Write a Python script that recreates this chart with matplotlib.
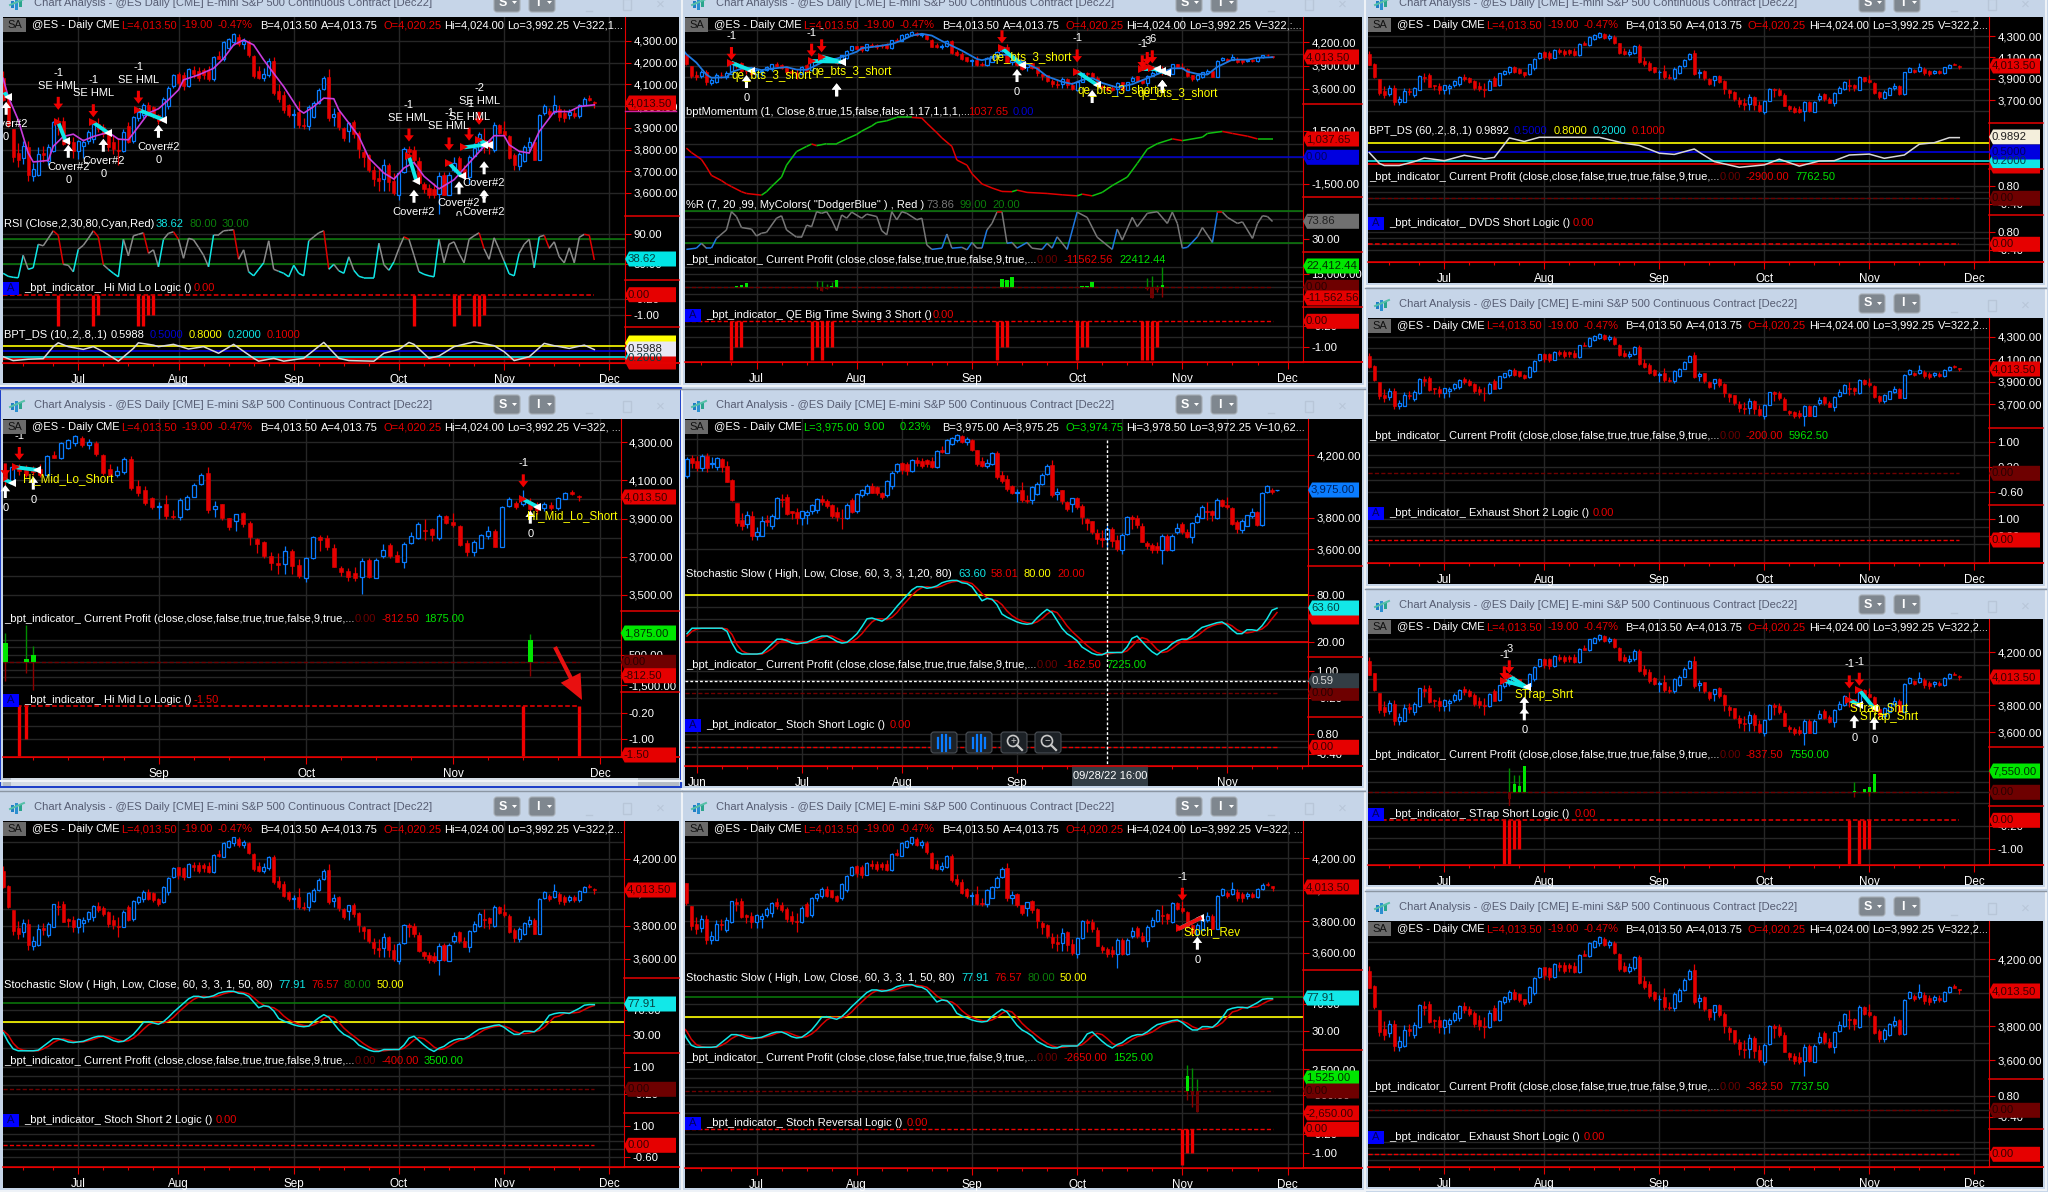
import numpy as np
import matplotlib
matplotlib.use('Agg')
import matplotlib.pyplot as plt
from matplotlib.collections import LineCollection
from matplotlib.patches import Rectangle, Polygon, FancyBboxPatch, Circle

plt.rcParams['font.family'] = ['Liberation Sans', 'DejaVu Sans']

MONTH_IDX = [2, 23, 43, 66, 87, 108, 129]
MONTH_LAB = ['Jun', 'Jul', 'Aug', 'Sep', 'Oct', 'Nov', 'Dec']
MINOR_IDX = [7, 12, 18, 28, 33, 38, 48, 53, 58, 61, 71, 76, 81, 92, 97, 102, 113, 118, 123]

O = [4065,4180,4160,4115,4195,4140,4125,4172,4130,4040,3895,3785,3760,3812,3680,3685,3785,3747,3795,3920,
     3930,3840,3835,3795,3815,3840,3850,3920,3905,3880,3835,3800,3795,3910,3840,3945,3960,4005,3995,3960,
     3945,4000,4095,4150,4145,4095,4165,4162,4165,4160,4125,4230,4215,4270,4295,4320,4285,4295,4230,4160,
     4130,4145,4210,4070,4050,4005,3960,3975,3915,3910,3950,4015,4080,4136,3950,3974,3901,3887,3927,3875,
     3791,3777,3704,3668,3664,3730,3657,3591,3695,3803,3798,3746,3641,3624,3617,3596,3683,3591,3706,3760,
     3709,3675,3770,3800,3842,3845,3796,3913,3884,3861,3774,3723,3748,3810,3835,3753,3967,3979,3974,3988,
     3970,3957,3970,3953,4004,4037,4020.25]
H = [4185,4200,4195,4205,4210,4190,4190,4180,4160,4045,3895,3830,3840,3840,3740,3810,3815,3825,3930,3950,
     3950,3845,3860,3845,3850,3890,3925,3945,3920,3890,3865,3855,3895,3925,3955,3980,4015,4020,4000,3965,
     4040,4095,4150,4155,4155,4175,4185,4180,4175,4185,4230,4255,4300,4315,4335,4330,4315,4305,4235,4185,
     4175,4220,4225,4100,4070,4010,3985,4025,3945,4005,4025,4085,4140,4170,3990,3978,3905,3925,3935,3885,
     3800,3780,3725,3720,3755,3740,3690,3700,3810,3815,3815,3765,3650,3640,3645,3695,3695,3695,3765,3770,
     3730,3775,3830,3880,3900,3850,3925,3920,3930,3868,3785,3790,3820,3860,3845,3965,4010,3990,4050,4005,
     3985,3985,3985,4012,4040,4050,4024]
L = [4055,4115,4095,4100,4090,4115,4105,4090,4025,3905,3745,3720,3735,3655,3655,3680,3745,3730,3790,3865,
     3820,3790,3760,3755,3760,3825,3830,3880,3860,3795,3780,3730,3790,3830,3830,3930,3945,3955,3945,3920,
     3935,3985,4085,4080,4075,4090,4130,4115,4125,4115,4115,4215,4210,4265,4280,4275,4265,4228,4130,4125,
     4115,4135,4050,4020,3970,3950,3900,3900,3895,3890,3945,4010,4075,3930,3910,3890,3840,3835,3855,3760,
     3720,3695,3630,3610,3610,3610,3590,3570,3690,3730,3735,3645,3600,3575,3575,3505,3590,3590,3695,3695,
     3670,3640,3765,3795,3785,3780,3790,3870,3855,3755,3705,3705,3745,3795,3750,3750,3960,3950,3965,3930,
     3925,3940,3945,3945,4000,4025,3992.25]
C = [4175,4147,4115,4195,4120,4150,4178,4122,4030,3915,3768,3750,3815,3685,3710,3780,3775,3810,3928,3910,
     3825,3830,3795,3840,3835,3880,3918,3897,3872,3812,3803,3795,3882,3835,3950,3975,4005,3960,3955,3930,
     4035,4085,4145,4105,4095,4170,4150,4130,4145,4125,4225,4218,4295,4308,4330,4285,4300,4235,4140,4130,
     4150,4210,4060,4035,3980,3960,3965,3912,3908,3995,4015,4075,4130,3945,3966,3904,3854,3924,3870,3802,
     3767,3706,3666,3657,3729,3652,3600,3692,3803,3790,3751,3647,3620,3592,3591,3680,3593,3683,3736,3706,
     3675,3767,3809,3871,3835,3814,3913,3875,3866,3762,3727,3779,3814,3833,3753,3958,4002,3962,4006,3950,
     3945,3974,3955,4006,4032,4030,4013.5]
W5_LAST_BAR = (3974.75, 3978.5, 3972.25, 3975.0)

MA_X = [8,9,11,12,13,14,17,18,20,22,24,26,29,31,33,35,37,39,41,43,44,47,50,52,54,56,58,60,62,64,67,68,70,72,74,75,77,79,81,84,86,88,90,92,95,98,101,104,106,108,109,111,113,115,118,121,123,126]
MA_V = [4128,4044,3937,3860,3784,3743,3750,3815,3860,3871,3841,3860,3880,3848,3845,3906,3968,3988,4029,4075,4121,4144,4174,4220,4282,4305,4282,4213,4151,4090,3983,3968,3998,4037,4034,3983,3922,3860,3761,3692,3664,3715,3741,3677,3619,3661,3738,3815,3864,3864,3822,3792,3784,3883,3975,3975,3998,4006]

RSI_V = [12,6,4,3,48,20,23,70,67,82,97,88,30,28,15,60,68,82,97,85,29,20,12,5,80,47,87,90,93,52,
         59,25,80,92,95,80,42,82,79,64,48,25,89,89,97,98,99,40,59,15,7,20,33,77,20,16,12,5,28,12,
         7,77,85,93,97,20,30,17,12,45,18,6,3,3,3,72,29,18,35,
         62,85,80,48,15,10,7,5,80,33,70,75,52,33,80,87,93,61,40,83,60,36,
         11,7,52,70,80,23,85,88,62,75,45,33,63,33,84,90,88,38.62]

DS10_X = [8,10,13,16,18,19,21,24,26,28,31,34,35,38,39,42,45,48,51,54,58,59,62,64,68,72,75,77,82,84,87,89,90,93,95,98,102,106,108,110,113,116,118,121,124,126]
DS10_V = [.23,.03,.10,.13,.75,.95,.75,.61,.75,.49,0,.66,.95,.83,.75,.87,.63,.75,.41,.87,.15,0,.15,0,.15,.97,.15,.03,0,.41,.61,.97,.87,.15,.27,.75,1.0,.8,.49,.03,.23,.92,.8,.66,.83,.5988]
DS60_X = [8,10,11,14,17,19,23,27,31,33,36,39,42,54,59,62,66,69,73,74,77,82,87,90,94,98,101,104,108,111,115,118,121,124,126]
DS60_V = [.49,.13,.06,.06,.19,.31,.22,.4,.28,.33,.98,.86,1.0,1.0,.8,.73,.47,.43,.61,.5,.19,0,.08,.27,.04,.21,.22,.41,.44,.3,.41,.77,.82,.9892,.9892]

MOM_X = [9,10,12,13,14,16,17,18,20,21,24,25,26,28,29,31,33,34,35,37,39,41,43,44,46,47,49,51,54,56,57,59,60,62,63,65,66,68,70,72,74,75,77,81,84,87,88,90,92,94,97,99,101,103,106,108,112,113,116,118,121,123,126]
MOM_V = [520,270,-115,-540,-1020,-1310,-1500,-1650,-1940,-2040,-2135,-1940,-1650,-1115,-440,325,615,750,655,770,770,1040,1290,1480,1770,1960,2060,2250,2250,2210,1920,1385,1095,615,-155,-440,-925,-1500,-1730,-1925,-1940,-1850,-1980,-2040,-2115,-2175,-2075,-2175,-1980,-1595,-1115,-345,460,770,1040,940,1135,1345,1460,1345,1190,1037.65,1037.65]

WR_X = [9,11,12,13,14,15,17,18,19,20,22,23,24,25,27,28,29,31,32,33,34,35,36,37,38,39,40,41,42,44,45,47,48,49,50,51,52,53,55,56,57,58,60,61,62,64,65,66,67,68,69,70,71,72,73,74,75,77,78,80,81,82,83,85,87,89,91,94,95,96,98,99,101,103,105,106,107,108,109,111,112,114,115,116,117,119,120,122,123,124,125,126]
WR_V = [5,8,20,8,8,32,53,98,86,59,55,38,45,47,82,88,53,35,35,65,61,98,94,98,78,51,90,82,97,82,92,86,51,41,98,78,98,94,78,82,16,5,8,43,8,10,4,22,8,8,53,69,97,97,20,22,8,22,8,5,20,8,36,5,97,84,35,5,55,28,84,61,94,98,69,97,69,8,10,36,59,22,97,97,84,69,73,32,69,88,86,73.86]

STOCH_K = [31,38,38,38,38,38,38,38,34,19,8,5,5,5,5,6,12,18,24,24,22,19,18,19,20,23,26,28,28,25,
           21,19,20,25,31,40,50,51,49,47,51,58,66,73,80,87,91,91,89,90,92,96,98,99,99,96,95,91,82,73,
           76,75,68,56,52,49,46,44,43,44,51,57,62,58,48,38,31,27,22,14,10,6,4,4,7,7,7,7,14,25,
           28,21,14,8,4,9,12,18,22,24,24,28,34,39,41,43,45,46,42,36,31,31,36,36,35,41,50,61,63.6,
           65,65,64,68,72,77,78,77.91]
STOCH_D = [28,34,37,38,38,38,38,38,37,30,17,9,6,5,5,5,8,12,18,22,24,22,20,19,19,21,23,26,28,28,
           25,22,20,21,25,31,39,46,50,50,49,52,58,66,73,80,86,90,91,90,90,92,95,97,98,98,97,95,89,82,
           77,74,73,68,60,54,50,47,45,44,46,50,56,60,58,50,41,34,28,22,16,11,7,5,5,6,7,7,9,15,
           22,26,24,18,11,7,8,12,17,21,23,25,28,33,38,41,43,44,44,41,36,33,32,33,35,37,42,50,58.01,
           60,64,65,65,66,70,74,76.57]

HML_SIG_X = [19,26,27,35,36,37,38,90,98,99,102,103,104]
HML_SIG_V = [-1.5,-1.5,-1,-1.5,-1.5,-1,-1,-1.5,-1.5,-1,-1.5,-1.5,-1]
QE_SIG_X = [18,19,20,34,35,36,37,38,71,72,73,87,88,89,100,101,102,103]
QE_SIG_V = [-1.5,-1,-1,-1.5,-1,-1.5,-1,-1,-1.5,-1,-1,-1.5,-1,-1,-1.5,-1.5,-1.5,-1]
HML2_SIG_X = [46,47,118,126]
HML2_SIG_V = [-1.5,-1,-1.5,-1.5]
STRAP_SIG_X = [35,36,37,38,104,106,107,108]
STRAP_SIG_V = [-1.5,-1.5,-1,-1,-1.5,-1.5,-1,-1]
REV_SIG_X = [108,109,110]
REV_SIG_V = [-1.5,-1,-1]

QE_PROF = [(19,1000,1000,0),(20,3000,3000,0),(21,4500,4500,0),(35,0,7000,-2000),(36,-4000,7000,-4000),(37,-2000,4000,-2000),
           (38,1500,6000,0),(39,8000,8000,0),(72,9000,9000,-1000),(73,8500,8500,0),(74,11000,11000,0),(88,1000,1000,-500),
           (89,1000,1000,0),(90,6000,6000,0),(101,-2000,10000,-3000),(102,-11500,12000,-11562),(103,-2500,3000,-5000),(104,3000,22412,-11000)]
HML2_PROF = [(44,1250,1900,-1225),(47,220,2450,-720),(48,480,1070,-1815),(119,1466,1860,-875)]
STRAP_PROF = [(36,-2000,7000,-3800),(37,2300,5000,0),(38,1800,5000,0),(39,7550,7550,0),(105,400,2800,-1300),(107,800,800,0),(108,1400,1400,-1000),(109,5200,5200,0)]
REV_PROF = [(109,1770,3000,-1040),(110,-460,2615,-1800),(111,-2385,1350,-2385)]

# (red_i, red_tip, white_i, white_tip, line_i0, line_p0, line_i1, line_p1, top_num, name, name_i, name_p, bottom_num)
HML_TRADES = [(19,3983,21,3822,19,3925,20.5,3838,'-1','SE HML',None,None,'Cover#2'),
              (26,3949,28,3850,26,3925,29,3876,'-1','SE HML',None,None,'Cover#2'),
              (35,4011,39,3914,35,3983,40,3937,'-1','SE HML',None,None,'Cover#2'),
              (None,None,8.6,4020,8,4070,9,4040,'','',None,None,'Cover#2'),
              (89,3837,90,3615,89,3769,90.5,3654,'-1','SE HML',None,None,'Cover#2'),
              (97,3796,99,3654,97,3738,99.5,3677,'-1','SE HML',None,None,'Cover#2'),
              (101,3841,104,3746,100,3810,104,3822,'-1','SE HML',None,None,'Cover#2'),
              (103,3914,104,3615,103,3845,105,3819,'-2','SE HML',None,None,'Cover#2')]
QE_TRADES = [(18,3970,21,3779,18,3936,22,3834,'-1','qe_bts_3_short',26,3770,'0'),
             (34,4013,39,3672,34,3957,40,3949,'-1','qe_bts_3_short',42,3820,'-'),
             (36,4068,39,3672,36,4013,40,3940,'-','',None,None,''),
             (72,4183,75,3855,72,4119,76,3906,'','qe_bts_3_short',78,4000,'0'),
             (87,3940,90,3587,87,3821,91,3651,'-1','qe_bts_3_short',95,3580,''),
             (100,3864,104,3715,100,3860,103,3860,'-1','',None,None,''),
             (101,3906,104,3715,101,3880,104,3830,'3','',None,None,''),
             (102,3928,104,3715,102,3864,105,3800,'6','qe_bts_3_short',107,3540,'')]
HML2_TRADES = [(44,4120,44,4075,43.8,4105,45,4085,'','',None,None,'0'),
               (46,4206,48,4119,45.5,4168,48.5,4154,'-1','Hi_Mid_Lo_Short',53,4105,'0'),
               (118,4063,119,3941,118,4000,120,3962,'-1','Hi_Mid_Lo_Short',125,3915,'0')]
STRAP_TRADES = [(35,3995,39,3785,35,3985,39.5,3935,'-1','',None,None,'0'),
                (36,4040,39,3865,36,4020,39.5,3935,'3','STrap_Shrt',43,3880,''),
                (104,3927,105,3727,104,3840,106,3802,'-1','STrap_Shrt',110,3770,'0'),
                (106,3947,109,3715,106,3915,109,3777,'-1','STrap_Shrt',112,3715,'0')]
REV_TRADES = [(108,3930,111,3703,107.5,3756,111.5,3819,'-1','Stoch_Rev',114,3735,'0')]

FS = 8.0
RED, DKRED, CYAN = '#e60000', '#6e0000', '#10e6e6'
BLUE = '#0a7cff'
GRID = '#262626'
CHROME = '#c6d5e8'

fig = plt.figure(figsize=(20.48, 11.92), dpi=100, facecolor=CHROME)
bg = fig.add_axes([0, 0, 1, 1], xlim=(0, 2048), ylim=(1192, 0), zorder=0)
bg.axis('off')
ov = fig.add_axes([0, 0, 1, 1], xlim=(0, 2048), ylim=(1192, 0), zorder=5, facecolor='none')
ov.axis('off')


def txt(x, y, s, color='white', ha='left', fs=FS, **kw):
    ov.text(x, y, s, color=color, ha=ha, va='center', fontsize=fs, **kw)


def tag(win, y, s, face, tc='#3a0000'):
    X, R = win['X'], win['R'] - 3
    ov.add_patch(Polygon([(X, y), (X + 4, y - 7.5), (R, y - 7.5), (R, y + 7.5), (X + 4, y + 7.5)],
                         closed=True, facecolor=face, edgecolor='none'))
    txt(X + 3, y, s, color=tc, fs=FS + .2)


def icon(x, y):
    for dx_, h_, c in [(0, 7, '#1f7fc4'), (4, 11, '#2b8fd0'), (8, 6, '#2aa58c')]:
        bg.add_patch(Rectangle((x + dx_, y - h_ / 2 + 1), 3, h_, facecolor=c, edgecolor='none'))
    bg.plot([x - 1, x + 13], [y + 2, y - 4], color='#55c0a8', lw=1.4)


def window(L, R, T, X, bot, B, i0, x0, dx, vals=None, volume='V=322,2...'):
    win = dict(L=L, R=R, T=T, X=X, bot=bot, B=B, i0=i0, x0=x0, dx=dx, axes=[])
    bg.add_patch(Rectangle((L, T), R - L, B - T, facecolor='black', edgecolor='none'))
    bg.plot([L - 3, R + 2], [B + 3, B + 3], color='#eef2f7', lw=1.5)
    bg.plot([R + 3, R + 3], [T - 29, B + 3], color='#eef2f7', lw=1.5)
    bg.plot([L - 3, R + 3], [T - 30, T - 30], color='#8b96a3', lw=1)
    cy = T - 14
    icon(L + 8, cy)
    bg.text(L + 31, cy, 'Chart Analysis - @ES Daily [CME] E-mini S&P 500 Continuous Contract [Dec22]',
            color='#565c72', fontsize=FS, va='center')
    for bx, lab in [(491, 'S'), (526, 'I')]:
        bg.add_patch(FancyBboxPatch((L + bx, T - 24), 26, 19, boxstyle='round,pad=0,rounding_size=3',
                                    facecolor='#7f878f', edgecolor='#a7aeb5', lw=.8))
        bg.text(L + bx + 9, T - 14.5, lab, color='white', fontsize=FS + 1, fontweight='bold', ha='center', va='center')
        bg.add_patch(Polygon([(L + bx + 18, T - 16), (L + bx + 23, T - 16), (L + bx + 20.5, T - 13)], facecolor='white'))
    bg.plot([L + 583, L + 589], [T - 6, T - 6], color='#b8c6d8', lw=1)
    bg.add_patch(Rectangle((L + 620, T - 18), 8, 11, facecolor='none', edgecolor='#b8c6d8', lw=1))
    bg.text(L + 657, T - 12, '\u00d7', color='#b8c6d8', fontsize=11, ha='center', va='center')
    ov.add_patch(Rectangle((L, T + 1), 23, 14, facecolor='#6a6a6a', edgecolor='none'))
    txt(L + 11.5, T + 8, 'SA', color='#111111', ha='center')
    v = vals or (('L=4,013.50', '-19.00', '-0.47%', 'B=4,013.50', 'A=4,013.75', 'O=4,020.25', 'Hi=4,024.00', 'Lo=3,992.25'), RED)
    seg, col = v
    txt(L + 29, T + 8, '@ES - Daily')
    txt(L + 92, T + 8, 'CME')
    offs = [118.5, 179, 215, 257, 318, 380, 441, 504]
    cols = [col, col, col, 'white', 'white', col, 'white', 'white']
    for o, s, c in zip(offs, seg, cols):
        txt(L + o, T + 8, s, color=c)
    txt(L + 570, T + 8, volume)
    return win


def panel(win, top, bot, cal, ticks, grid=(), last=False, hline_sep=True):
    L, X = win['L'], win['X']
    ax = fig.add_axes([L / 2048, 1 - bot / 1192, (X - L) / 2048, (bot - top) / 1192], zorder=2)
    ax.set_facecolor('none')
    (y1, v1), (y2, v2) = cal
    slope = (v2 - v1) / (y2 - y1)
    ylims = (v1 + (bot - y1) * slope, v1 + (top - y1) * slope)
    xlims = (win['i0'] + (L - win['x0']) / win['dx'], win['i0'] + (X - win['x0']) / win['dx'])
    for s in ax.spines.values():
        s.set_visible(False)
    ax.spines['right'].set_visible(True)
    ax.spines['right'].set_color(RED)
    ax.yaxis.tick_right()
    ax.set_yticks(ticks)
    ax.set_yticklabels([f'{t:,.2f}' for t in ticks], color='white', fontsize=FS + .2)
    ax.tick_params(axis='y', colors=RED, length=4, width=.8, labelcolor='white', pad=2)
    for g in grid:
        ax.axhline(g, color=GRID, lw=1, zorder=0)
    for m in MONTH_IDX:
        ax.axvline(m, color=GRID, lw=1, zorder=0)
    ax.set_xticks(MONTH_IDX if last else [])
    if last:
        ax.set_xticklabels(MONTH_LAB, color='white', fontsize=FS + .4)
        ax.set_xticks(MINOR_IDX, minor=True)
        ax.tick_params(axis='x', which='major', colors=RED, length=5, width=.8, labelcolor='white', pad=3)
        ax.tick_params(axis='x', which='minor', colors=RED, length=2.5, width=.8)
        ax.spines['bottom'].set_visible(True)
        ax.spines['bottom'].set_color(RED)
        ov.plot([L, win['R']], [bot, bot], color=RED, lw=1.1)
    ax.set_xlim(xlims)
    ax.set_ylim(ylims)
    ax.set_autoscale_on(False)
    if hline_sep:
        ov.plot([X, win['R']], [bot, bot], color=RED, lw=1.1)
    return ax


def candles(ax, xs=None, o=O, h=H, l=L, c=C):
    xs = np.arange(len(o)) if xs is None else xs
    o, h, l, c = map(np.asarray, (o, h, l, c))
    up = c >= o
    ax.vlines(xs[up], l[up], h[up], color=BLUE, lw=.9, zorder=3)
    ax.vlines(xs[~up], l[~up], h[~up], color=RED, lw=.9, zorder=3)
    ax.bar(xs[~up], (o - c)[~up], bottom=c[~up], width=.62, color=RED, edgecolor=RED, lw=.4, zorder=4)
    ax.bar(xs[up], (c - o)[up], bottom=o[up], width=.62, color='black', edgecolor=BLUE, lw=.9, zorder=4)


def seg_line(ax, x, y, colors, lw=1.1):
    pts = np.column_stack([x, y])
    segs = np.stack([pts[:-1], pts[1:]], axis=1)
    ax.add_collection(LineCollection(segs, colors=colors, linewidths=lw, zorder=5))


def signals(ax, xs, vs):
    ax.vlines(xs, vs, 0, color='#f00000', lw=2.4, zorder=4)


def profit(ax, rows):
    for i, v, hi, lo in rows:
        c = '#00e600' if v >= 0 else DKRED
        ax.vlines(i, 0, hi, color='#008c00', lw=1, zorder=3)
        ax.vlines(i, lo, 0, color='#8c0000', lw=1, zorder=3)
        ax.bar(i, v, width=.72, color=c, zorder=4)


def zero(ax, color, lw=1, lastx=126):
    ax.plot([ax.get_xlim()[0], lastx], [0, 0], color=color, lw=lw, ls=(0, (3, 1.6)), zorder=2)


def trades(ax, rows, hml=False):
    for r in rows:
        ri, rp, wi, wp, i0, p0, i1, p1, num, name, ni, np_, bot = r
        ax.plot([i0, i1], [p0, p1], color=CYAN, lw=2.8, zorder=6, solid_capstyle='butt')
        ax.plot([i0], [p0], marker='>', color=RED, ms=6, mew=0, zorder=6)
        ax.plot([i1], [p1], marker='<', color='white', ms=6, mew=0, zorder=7)
        if ri is not None:
            ax.annotate('', xy=(ri, rp), xytext=(0, 13), textcoords='offset pixels', zorder=8,
                        arrowprops=dict(facecolor='#f00000', edgecolor='none', width=2.2, headwidth=7, headlength=4.5, shrink=0))
        ax.annotate('', xy=(wi, wp), xytext=(0, -13), textcoords='offset pixels', zorder=8,
                    arrowprops=dict(facecolor='white', edgecolor='none', width=2.2, headwidth=7, headlength=4.5, shrink=0))
        t = dict(ha='center', va='center', fontsize=FS, textcoords='offset pixels', clip_on=True,
                 annotation_clip=False, zorder=9)
        if hml:
            if ri is not None:
                ax.annotate(name, xy=(ri, rp), xytext=(0, 24), color='white', **t)
                ax.annotate(num, xy=(ri, rp), xytext=(0, 37), color='white', **t)
            ax.annotate(bot, xy=(wi, wp), xytext=(0, -22), color='white', **t)
            ax.annotate('0', xy=(wi, wp), xytext=(0, -35), color='white', **t)
        else:
            ax.annotate(num, xy=(ri, rp), xytext=(0, 24), color='white', **t)
            ax.annotate(bot, xy=(wi, wp), xytext=(0, -23), color='white', **t)
            if name:
                ax.text(ni, np_, name, color='#ffff00', ha='center', va='center', fontsize=FS + .4, zorder=9, clip_on=True)


def alabel(win, y, s, vals):
    L = win['L']
    ov.add_patch(Rectangle((L, y - 6.5), 16, 13, facecolor='#0000ff', edgecolor='none'))
    txt(L + 8, y, 'A', color='#000060', ha='center')
    txt(L + 21, y, s)
    for x, t, c in vals:
        txt(L + x, y, t, color=c)


PROFIT_TXT = '_bpt_indicator_ Current Profit (close,close,false,true,true,false,9,true,...'


def plabel(win, y, a, b, xa=378, xb=421):
    L = win['L']
    txt(L + 1, y, PROFIT_TXT)
    txt(L + 352, y, '0.00', color='#6a0000')
    txt(L + xa, y, a, color=RED)
    txt(L + xb, y, b, color='#00e000')


# ---------------- Window 1
w = window(3, 679, 17, 625, 363, 383, 23, 78.3, 5.01, volume='V=322,1...')
a = panel(w, 17, 216, ((41, 4300), (193, 3600)), list(range(3600, 4301, 100)), range(3600, 4301, 100))
candles(a)
a.plot(MA_X, MA_V, color='#c83cdc', lw=1.2, zorder=5)
trades(a, HML_TRADES, hml=True)
tag(w, 103, '4,013.50', RED)
ov.plot([625, 676], [110.5, 110.5], color='#d020a0', lw=1)
a = panel(w, 216, 280, ((239.3, 80), (264.3, 30)), [30, 90], [30, 50, 65, 80, 90])
a.axhline(80, color='#0b7d0b', lw=1.1, zorder=2)
a.axhline(30, color='#0b7d0b', lw=1.1, zorder=2)
rx = np.arange(126 - len(RSI_V) + 1, 127)
rcol = ['#e00000' if max(p, q) >= 85 and q < p else (CYAN if q > p and p <= 32 or min(p, q) <= 12 else '#8a8a8a')
        for p, q in zip(RSI_V[:-1], RSI_V[1:])]
seg_line(a, rx, RSI_V, rcol)
txt(4, 224, 'RSI (Close,2,30,80,Cyan,Red)')
txt(156, 224, '38.62', color=CYAN); txt(189, 224, '80.00', color='#0b7d0b'); txt(222, 224, '30.00', color='#0b7d0b')
tag(w, 259, '38.62', '#00e5e5', '#064040')
a = panel(w, 280, 327, ((294.7, 0), (315.3, -1)), [-1.0, -0.2], [-1.0, -0.6, -0.2])
zero(a, '#f00000', 1.1)
signals(a, HML_SIG_X, HML_SIG_V)
alabel(w, 288, '_bpt_indicator_ Hi Mid Lo Logic ()', [(191, '0.00', RED)])
tag(w, 294.7, '0.00', RED)
a = panel(w, 327, 363, ((345.7, .8), (357.3, .2)), [], [], last=True)
for v_, c_ in [(.8, '#ffff00'), (.5, '#0000e0'), (.2, CYAN), (.1, '#f00000')]:
    a.axhline(v_, color=c_, lw=1.2, zorder=2)
a.plot(DS10_X, DS10_V, color='#d8d8d8', lw=1.1, zorder=5)
txt(4, 335, 'BPT_DS (10,.2,.8,.1)'); txt(111, 335, '0.5988')
txt(150, 335, '0.5000', color='#0000d0'); txt(189, 335, '0.8000', color='#ffff00')
txt(228, 335, '0.2000', color=CYAN); txt(267, 335, '0.1000', color=RED)
tag(w, 343, '', '#ffff00'); tag(w, 358, '0.2000', CYAN, '#064040'); tag(w, 362, '', '#e00000')
tag(w, 349, '0.5988', '#e8e8f4', '#202020')

# ---------------- Window 2
w = window(685, 1362, 17, 1303, 362, 383, 23, 756.5, 5.01, volume='V=322,:...')
a = panel(w, 17, 104, ((42, 4200), (89, 3600)), [3600, 3900, 4200], range(3600, 4351, 150))
candles(a)
a.plot(MA_X, MA_V, color='#1e78e0', lw=1.3, zorder=5)
trades(a, QE_TRADES)
tag(w, 57, '4,013.50', RED)
a = panel(w, 104, 197, ((157.3, 0), (130.7, 1500)), [-1500, 1500], [-1500, -750, 0, 750, 1500, 2250])
a.axhline(0, color='#0000d0', lw=1.1, zorder=2)
mcol = ['#10c010' if q >= p else '#e00000' for p, q in zip(MOM_V[:-1], MOM_V[1:])]
seg_line(a, MOM_X, MOM_V, mcol)
txt(686, 112, 'bptMomentum (1, Close,8,true,15,false,false,1,17,1,1,1,...')
txt(968, 112, '1037.65', color=RED); txt(1013, 112, '0.00', color='#0000d0')
tag(w, 139, '1,037.65', RED); tag(w, 157.3, '0.00', '#0000e0', '#000060')
a = panel(w, 197, 252, ((211.3, 99), (243.3, 20)), [30], [20, 40, 60, 80, 99])
a.axhline(99, color='#0b7d0b', lw=1.1, zorder=2); a.axhline(20, color='#0b7d0b', lw=1.1, zorder=2)
wcol = ['#1e78e0' if (q > p and p <= 25) or max(p, q) <= 12 and p < 10 and q < 10 and i < 5 else ('#e00000' if min(p, q) >= 96 else '#777777')
        for i, (p, q) in enumerate(zip(WR_V[:-1], WR_V[1:]))]
seg_line(a, WR_X, WR_V, wcol)
txt(686, 205, '%R (7, 20 ,99, MyColors( "DodgerBlue" ) , Red )')
txt(926, 205, '73.86', color='#777777'); txt(959, 205, '99.00', color='#0b7d0b'); txt(992, 205, '20.00', color='#0b7d0b')
tag(w, 221.3, '73.86', '#707070', '#202020')
a = panel(w, 252, 307, ((287.3, 0), (273.7, 15000)), [15000], [-15000, -7500, 0, 7500, 15000, 22500])
zero(a, DKRED)
profit(a, QE_PROF)
plabel(w, 260, '-11562.56', '22412.44', xa=379, xb=434)
tag(w, 266, '22,412.44', '#00e600', '#003000'); tag(w, 287.3, '0.00', DKRED, '#2a0000'); tag(w, 298, '-11,562.56', RED)
a = panel(w, 307, 362, ((321.3, 0), (347.3, -1)), [-1.0, -0.2], [-1.0, -0.6, -0.2], last=True)
zero(a, '#f00000', 1)
signals(a, QE_SIG_X, QE_SIG_V)
alabel(w, 315, '_bpt_indicator_ QE Big Time Swing 3 Short ()', [(248, '0.00', RED)])
tag(w, 321.3, '0.00', RED)

# ---------------- Window 3
w = window(1368, 2043, 17, 1989, 262, 283, 23, 1444.3, 5.0)
a = panel(w, 17, 123, ((36, 4300), (100, 3700)), [3700, 3900, 4100, 4300], range(3600, 4301, 100))
candles(a)
tag(w, 66, '4,013.50', RED)
a = panel(w, 123, 169, ((143.3, .8), (161.3, .2)), [], [])
for v_, c_ in [(.8, '#ffff00'), (.5, '#0000e0'), (.2, CYAN), (.1, '#f00000')]:
    a.axhline(v_, color=c_, lw=1.2, zorder=2)
a.plot(DS60_X, DS60_V, color='#d8d8d8', lw=1.1, zorder=5)
txt(1369, 131, 'BPT_DS (60,.2,.8,.1)'); txt(1476, 131, '0.9892')
txt(1514, 131, '0.5000', color='#0000d0'); txt(1554, 131, '0.8000', color='#ffff00')
txt(1593, 131, '0.2000', color=CYAN); txt(1632, 131, '0.1000', color=RED)
tag(w, 137, '0.9892', '#f4efdc', '#202020'); tag(w, 166, '', '#e00000')
tag(w, 161, '0.2000', CYAN, '#064040'); tag(w, 152, '0.5000', '#0000e0', '#000060')
a = panel(w, 169, 215, ((198.3, 0), (186, .8)), [.8, -.4], [-.4, 0, .4, .8])
zero(a, DKRED)
plabel(w, 177, '-2900.00', '7762.50', xb=427)
tag(w, 198.3, '0.00', DKRED, '#2a0000')
a = panel(w, 215, 262, ((244.3, 0), (232, .8)), [.8, -.4], [-.4, 0, .4, .8], last=True)
zero(a, '#f00000', 1.1)
alabel(w, 223, '_bpt_indicator_ DVDS Short Logic ()', [(205, '0.00', RED)])
tag(w, 244.3, '0.00', RED)

# ---------------- Window 4
w = window(3, 679, 419, 620.6, 757, 778, 66, 159.3, 7.0, volume='V=322, ...')
a = panel(w, 419, 611, ((442, 4300), (595, 3500)), [3500, 3700, 3900, 4100, 4300], range(3500, 4301, 100))
candles(a)
trades(a, HML2_TRADES)
tag(w, 497, '4,013.50', RED)
a = panel(w, 611, 692, ((662.3, 0), (654.7, 500)), [500, -1500], [-1500, -1000, -500, 0, 500, 1000, 1500])
zero(a, DKRED)
profit(a, HML2_PROF)
plabel(w, 619, '-812.50', '1875.00')
tag(w, 633, '1,875.00', '#00e600', '#003000'); tag(w, 662.3, '0.00', DKRED, '#2a0000'); tag(w, 675.7, '-812.50', RED)
a = panel(w, 692, 757, ((706.3, 0), (739.3, -1)), [-1.0, -.2], [-1.0, -.6, -.2], last=True)
zero(a, '#f00000', 1.1)
signals(a, HML2_SIG_X, HML2_SIG_V)
alabel(w, 700, '_bpt_indicator_ Hi Mid Lo Logic ()', [(190, '-1.50', RED)])
tag(w, 755, '-1.50', RED)
ov.annotate('', xy=(582, 700), xytext=(555, 647), zorder=9,
            arrowprops=dict(facecolor='#e81010', edgecolor='none', width=3, headwidth=16, headlength=18, shrink=0))
bg.add_patch(Rectangle((3, 778), 676, 8, facecolor='#d5dde6', edgecolor='none'))
bg.add_patch(Rectangle((3, 778), 8, 8, facecolor='#b4bcc5', edgecolor='none'))
bg.add_patch(Rectangle((638, 778), 41, 8, facecolor='#b4bcc5', edgecolor='none'))
bg.add_patch(Rectangle((0, 388), 681, 399, facecolor='none', edgecolor='#1a3cc8', lw=1.4))

# ---------------- Window 5
w = window(685, 1362, 419, 1308, 766, 786, 23, 802, 5.0, volume='V=10,62...',
           vals=(('L=3,975.00', '9.00', '0.23%', 'B=3,975.00', 'A=3,975.25', 'O=3,974.75', 'Hi=3,978.50', 'Lo=3,972.25'), '#00e000'))
a = panel(w, 419, 566, ((455, 4200), (549, 3600)), [3600, 3800, 4200], range(3600, 4301, 100))
n = 118
candles(a, xs=np.arange(n + 1), o=O[:n] + [W5_LAST_BAR[0]], h=H[:n] + [W5_LAST_BAR[1]], l=L[:n] + [W5_LAST_BAR[2]], c=C[:n] + [W5_LAST_BAR[3]])
tag(w, 490, '3,975.00', BLUE, '#00205a')
a = panel(w, 566, 657, ((595.3, 80), (642.3, 20)), [20, 50, 80], [20, 35, 50, 65, 80])
a.axhline(80, color='#ffff00', lw=1.2, zorder=2); a.axhline(20, color='#f00000', lw=1.2, zorder=2)
a.plot(range(n + 1), STOCH_D[:n + 1], color='#d80000', lw=1.1, zorder=5)
a.plot(range(n + 1), STOCH_K[:n + 1], color=CYAN, lw=1.1, zorder=6)
txt(686, 574, 'Stochastic Slow ( High, Low, Close, 60, 3, 3, 1,20, 80)')
txt(958, 574, '63.60', color=CYAN); txt(991, 574, '58.01', color=RED); txt(1024, 574, '80.00', color='#ffff00'); txt(1057, 574, '20.00', color=RED)
tag(w, 617, '', RED); tag(w, 608, '63.60', '#12e8e8', '#064040')
a = panel(w, 657, 717, ((693.3, 0), (671, 1.0)), [1.0, -.2], [-.2, .2, .6, 1.0])
zero(a, DKRED, lastx=118)
plabel(w, 665, '-162.50', '7225.00')
tag(w, 693.3, '0.00', DKRED, '#2a0000')
a = panel(w, 717, 766, ((747.3, 0), (734, .8)), [.8, -.4], [-.4, 0, .4, .8], last=True)
zero(a, '#f00000', 1, lastx=118)
alabel(w, 725, '_bpt_indicator_ Stoch Short Logic ()', [(205, '0.00', RED)])
tag(w, 747.3, '0.00', RED)
ov.plot([685, 1308], [680.7, 680.7], color='white', lw=1, ls=(0, (2, 1.5)))
ov.plot([1107, 1107], [440, 765], color='white', lw=1, ls=(0, (2, 1.5)))
tag(w, 680.7, '0.59', '#333d44', '#d8d8d8')
ov.add_patch(Rectangle((1072, 765), 76, 21, facecolor='#333d44', edgecolor='none'))
txt(1110, 776, '09/28/22 16:00', ha='center')
for bx in (931, 966, 1001, 1035):
    ov.add_patch(FancyBboxPatch((bx, 732), 26, 21, boxstyle='round,pad=0,rounding_size=3', facecolor='#1c2126', edgecolor='#4a4f55', lw=.8))
for bx in (931, 966):
    for off, hh in ((7, 5), (11, 8), (15, 8), (19, 5)):
        ov.plot([bx + off, bx + off], [742.5 - hh, 742.5 + hh], color=BLUE, lw=1.6)
for bx, s in ((1001, '+'), (1035, '\u2212')):
    ov.add_patch(Circle((bx + 12, 741), 5.5, facecolor='none', edgecolor='#c8c8c8', lw=1.2))
    ov.plot([bx + 16, bx + 21], [745, 750], color='#c8c8c8', lw=1.6)
    txt(bx + 12, 741, s, color='#c8c8c8', ha='center', fs=7)

# ---------------- Window 7
w = window(3, 679, 821, 624, 1167, 1188, 23, 78.3, 5.01)
a = panel(w, 821, 978, ((859, 4200), (959, 3600)), [3600, 3800, 4000, 4200], range(3600, 4301, 100))
candles(a)
tag(w, 890, '4,013.50', RED)
a = panel(w, 978, 1053, ((1003.3, 80), (1022.3, 50)), [30, 70], [10, 30, 50, 70, 90])
a.axhline(80, color='#0b7d0b', lw=1.1, zorder=2); a.axhline(50, color='#ffff00', lw=1.2, zorder=2)
a.plot(range(len(STOCH_D)), STOCH_D, color='#d80000', lw=1.1, zorder=5)
a.plot(range(len(STOCH_K)), STOCH_K, color=CYAN, lw=1.1, zorder=6)
txt(4, 985.5, 'Stochastic Slow ( High, Low, Close, 60, 3, 3, 1, 50, 80)')
txt(278, 985.5, '77.91', color=CYAN); txt(311, 985.5, '76.57', color=RED); txt(344, 985.5, '80.00', color='#0b7d0b'); txt(377, 985.5, '50.00', color='#ffff00')
tag(w, 1004, '77.91', '#12e8e8', '#064040')
a = panel(w, 1053, 1113, ((1089.3, 0), (1067, 1.0)), [1.0, -.2], [-.2, .2, .6, 1.0])
zero(a, DKRED)
plabel(w, 1061, '-400.00', '3500.00')
tag(w, 1089.3, '0.00', DKRED, '#2a0000')
a = panel(w, 1113, 1167, ((1145.3, 0), (1126, 1.0)), [1.0, -.6], [-.6, -.2, .2, .6, 1.0], last=True)
zero(a, '#f00000', 1)
alabel(w, 1120, '_bpt_indicator_ Stoch Short 2 Logic ()', [(213, '0.00', RED)])
tag(w, 1145.3, '0.00', RED)

# ---------------- Window 8
w = window(685, 1362, 821, 1303, 1168, 1188, 23, 756.5, 5.01, volume='V=322, ...')
a = panel(w, 821, 970, ((858, 4200), (953, 3600)), [3600, 3800, 4000, 4200], range(3600, 4301, 100))
candles(a)
trades(a, REV_TRADES)
a.plot([107.5, 111.5], [3756, 3819], color='#f01010', lw=2.8, zorder=7)
tag(w, 887, '4,013.50', RED)
a = panel(w, 970, 1050, ((997.3, 80), (1017.3, 50)), [30, 70], [10, 30, 50, 70, 90])
a.axhline(80, color='#0b7d0b', lw=1.1, zorder=2); a.axhline(50, color='#ffff00', lw=1.2, zorder=2)
a.plot(range(len(STOCH_D)), STOCH_D, color='#d80000', lw=1.1, zorder=5)
a.plot(range(len(STOCH_K)), STOCH_K, color=CYAN, lw=1.1, zorder=6)
txt(686, 978, 'Stochastic Slow ( High, Low, Close, 60, 3, 3, 1, 50, 80)')
txt(961, 978, '77.91', color=CYAN); txt(994, 978, '76.57', color=RED); txt(1027, 978, '80.00', color='#0b7d0b'); txt(1060, 978, '50.00', color='#ffff00')
tag(w, 998, '77.91', '#12e8e8', '#064040')
a = panel(w, 1050, 1115, ((1091, 0), (1069.3, 2500)), [2500, -500], [-2500, -1500, -500, 500, 1500, 2500], hline_sep=False)
zero(a, DKRED)
profit(a, REV_PROF)
plabel(w, 1058, '-2650.00', '1525.00', xa=379, xb=428)
tag(w, 1078, '1,525.00', '#00e600', '#003000'); tag(w, 1091, '0.00', DKRED, '#2a0000'); tag(w, 1113, '-2,650.00', RED)
a = panel(w, 1115, 1168, ((1129.3, 0), (1153.3, -1)), [-1.0, -.2], [-1.0, -.6, -.2], last=True)
zero(a, '#f00000', 1)
signals(a, REV_SIG_X, REV_SIG_V)
alabel(w, 1123, '_bpt_indicator_ Stoch Reversal Logic ()', [(222, '0.00', RED)])
tag(w, 1129.3, '0.00', RED)

# ---------------- Right column, window 2
w = window(1368, 2043, 318, 1989, 563, 584, 23, 1444.3, 5.0)
a = panel(w, 318, 428, ((337, 4300), (404, 3700)), [3700, 3900, 4100, 4300], range(3600, 4301, 100))
candles(a)
tag(w, 369, '4,013.50', RED)
a = panel(w, 428, 505, ((473.3, 0), (442, 1.0)), [1.0, .2, -.6], [-.6, -.2, .2, .6, 1.0])
zero(a, DKRED)
plabel(w, 436, '-200.00', '5962.50')
tag(w, 473.3, '0.00', DKRED, '#2a0000')
a = panel(w, 505, 563, ((540, 0), (519, 1.0)), [1.0, .2], [-.2, .2, .6, 1.0], last=True)
zero(a, '#f00000', 1)
alabel(w, 513, '_bpt_indicator_ Exhaust Short 2 Logic ()', [(225, '0.00', RED)])
tag(w, 540, '0.00', RED)

# ---------------- Right column, window 3
w = window(1368, 2043, 619, 1989, 865, 885, 23, 1444.3, 5.0)
a = panel(w, 619, 747, ((652, 4200), (732, 3600)), [3600, 3800, 4200], range(3600, 4301, 100))
candles(a)
trades(a, STRAP_TRADES)
tag(w, 677, '4,013.50', RED)
a = panel(w, 747, 806, ((792.3, 0), (765.7, 7550)), [], [-3000, 0, 3000, 6000])
zero(a, DKRED)
profit(a, STRAP_PROF)
plabel(w, 755, '-837.50', '7550.00')
tag(w, 771, '7,550.00', '#00e600', '#003000'); tag(w, 792.3, '0.00', DKRED, '#2a0000')
a = panel(w, 806, 865, ((820.3, 0), (849.3, -1)), [-1.0, -.2], [-1.0, -.6, -.2], last=True)
zero(a, '#f00000', 1.1)
signals(a, STRAP_SIG_X, STRAP_SIG_V)
alabel(w, 814, '_bpt_indicator_ STrap Short Logic ()', [(207, '0.00', RED)])
tag(w, 820.3, '0.00', RED)

# ---------------- Right column, window 4
w = window(1368, 2043, 921, 1989, 1167, 1187, 23, 1444.3, 5.0)
a = panel(w, 921, 1079, ((959, 4200), (1060, 3600)), [3600, 3800, 4200], range(3600, 4301, 100))
candles(a)
tag(w, 991, '4,013.50', RED)
a = panel(w, 1079, 1129, ((1110.3, 0), (1096, .8)), [.8, -.4], [-.4, 0, .4, .8])
zero(a, DKRED)
plabel(w, 1087, '-362.50', '7737.50')
tag(w, 1110.3, '0.00', DKRED, '#2a0000')
a = panel(w, 1129, 1167, ((1154.3, 0), (1142, .8)), [.2], [-.4, 0, .4, .8], last=True)
zero(a, '#f00000', 1)
alabel(w, 1137, '_bpt_indicator_ Exhaust Short Logic ()', [(216, '0.00', RED)])
tag(w, 1154.3, '0.00', RED)

fig.savefig('out.png', dpi=100, facecolor=CHROME)
